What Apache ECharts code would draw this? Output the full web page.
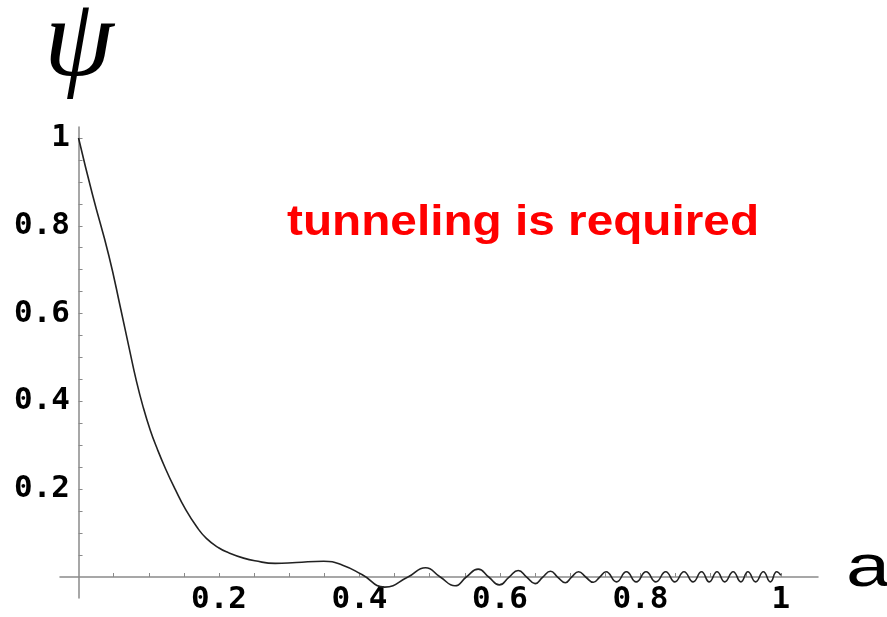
<!DOCTYPE html>
<html>
<head>
<meta charset="utf-8">
<script src="https://cdn.jsdelivr.net/npm/echarts@6/dist/echarts.min.js"></script>
<style>
html,body{margin:0;padding:0;background:#fff;}
#main{width:887px;height:617px;}
</style>
</head>
<body>
<div id="main"></div>
<script>
// scale factor a (x) and wavefunction psi (y)
const aValues = [0, 0.02, 0.043, 0.06, 0.072, 0.082, 0.092, 0.102, 0.112, 0.124, 0.1375, 0.152, 0.168, 0.182, 0.2, 0.214, 0.235, 0.251, 0.28, 0.31, 0.349, 0.376, 0.404, 0.436, 0.469, 0.494, 0.515, 0.536, 0.552, 0.569, 0.584, 0.599, 0.613, 0.626, 0.638, 0.650, 0.661, 0.672, 0.682, 0.693, 0.702, 0.712, 0.722, 0.733, 0.742, 0.751, 0.766, 0.780, 0.794, 0.808, 0.822, 0.836, 0.849, 0.862, 0.875, 0.887, 0.898, 0.909, 0.920, 0.932, 0.943, 0.953, 0.964, 0.975, 0.985, 0.994, 1.0];
const psiValues = [1.0, 0.87, 0.733, 0.611, 0.522, 0.449, 0.387, 0.335, 0.292, 0.246, 0.2, 0.155, 0.115, 0.088, 0.066, 0.055, 0.043, 0.037, 0.031, 0.033, 0.036, 0.027, 0.005, -0.023, 0, 0.021, 0, -0.020, 0, 0.018, 0, -0.018, 0, 0.015, 0, -0.015, 0, 0.013, 0, -0.013, 0, 0.012, 0, -0.012, 0, 0.012, -0.011, 0.012, -0.011, 0.012, -0.011, 0.012, -0.011, 0.012, -0.011, 0.012, -0.011, 0.012, -0.011, 0.012, -0.011, 0.012, -0.011, 0.012, -0.011, 0.012, 0.004];
const xTickLabels = [0.2, 0.4, 0.6, 0.8, 1];
const yTickLabels = [0.2, 0.4, 0.6, 0.8, 1];
const minorTicks = [0.05, 0.1, 0.15, 0.2, 0.25, 0.3, 0.35, 0.4, 0.45, 0.5, 0.55, 0.6, 0.65, 0.7, 0.75, 0.8, 0.85, 0.9, 0.95, 1];

const data = aValues.map((a, i) => [a, psiValues[i]]);
const fmt = v => (Math.abs(v - 1) < 1e-9 ? '1' : v.toFixed(1));
const labelFont = {fontFamily: 'DejaVu Sans Mono', fontWeight: 'bold', fontSize: 31, color: '#000'};

const chart = echarts.init(document.getElementById('main'), null, {renderer: 'canvas'});
chart.setOption({
  animation: false,
  backgroundColor: '#fff',
  grid: {left: 60, top: 127, width: 758, height: 471, outerBoundsMode: 'none', containLabel: false},
  xAxis: {
    type: 'value', min: -0.0264, max: 1.0528,
    splitLine: {show: false},
    axisLine: {onZero: true, lineStyle: {color: '#8a8a8a', width: 1.5}},
    axisTick: {inside: true, length: 4, customValues: minorTicks, lineStyle: {color: '#8a8a8a', width: 1}},
    axisLabel: Object.assign({customValues: xTickLabels, formatter: fmt, margin: -14}, labelFont)
  },
  yAxis: {
    type: 'value', min: -0.0478, max: 1.025,
    splitLine: {show: false},
    axisLine: {onZero: true, lineStyle: {color: '#8a8a8a', width: 1.5}},
    axisTick: {inside: true, length: 4, customValues: minorTicks, lineStyle: {color: '#8a8a8a', width: 1}},
    axisLabel: Object.assign({customValues: yTickLabels, formatter: fmt, margin: -10}, labelFont)
  },
  graphic: [
    {type: 'text', x: 44, y: -10, style: {text: 'ψ', fontFamily: 'Liberation Serif', fontStyle: 'italic', fontSize: 112, fill: '#000'}},
    {type: 'text', x: 846, y: 539, scaleX: 1.32, style: {text: 'a', fontFamily: 'Liberation Sans', fontSize: 60, fill: '#000'}},
    {type: 'text', x: 287, y: 202, scaleX: 1.11, style: {text: 'tunneling is required', fontFamily: 'Liberation Sans', fontWeight: 'bold', fontSize: 43, fill: '#ff0000'}}
  ],
  series: [{
    type: 'line', data: data, smooth: 0.5, showSymbol: false,
    lineStyle: {color: '#222', width: 1.6}
  }]
});
</script>
</body>
</html>
